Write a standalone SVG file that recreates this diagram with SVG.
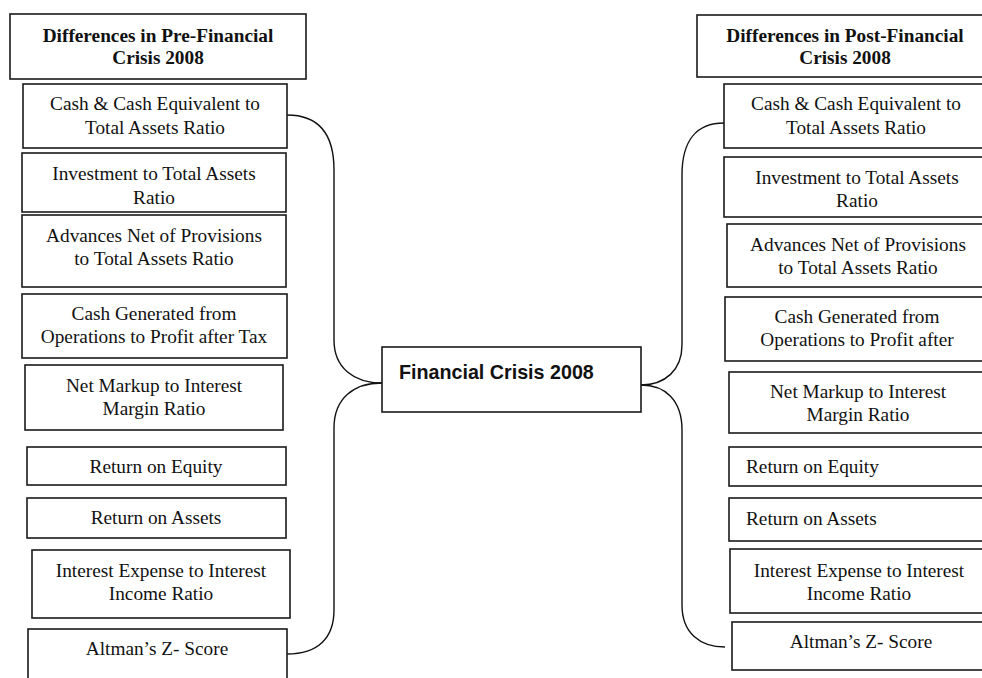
<svg xmlns="http://www.w3.org/2000/svg" width="982" height="678" viewBox="0 0 982 678">
<style>
.box{fill:#fff;stroke:#1a1a1a;stroke-width:1.6}
.t{font-family:"Liberation Serif","Times New Roman",serif;font-size:19.3px;fill:#111;text-anchor:middle}
.tl{text-anchor:start}
.h{font-weight:bold}
.c{font-family:"Liberation Sans",Arial,sans-serif;font-size:19.7px;font-weight:bold;fill:#111}
.conn{fill:none;stroke:#111;stroke-width:1.4}
</style>
<rect x="0" y="0" width="982" height="678" fill="#fff"/>
<g id="connectors">
<path class="conn" d="M287,115 C320,115 334,135 334,170 L334,340 C334,368 354,383 382,383"/>
<path class="conn" d="M382,383 C354,383 334,398 334,428 L334,610 C334,638 318,654 287,654"/>
<path class="conn" d="M724,123 C697,123 682,140 682,175 L682,345 C682,370 665,385 641,385"/>
<path class="conn" d="M641,385 C665,385 682,400 682,430 L682,605 C682,633 700,647 725,647"/>
</g>
<g id="center">
<rect class="box" x="382" y="347" width="259" height="65"/>
<text class="c" x="399" y="379">Financial Crisis 2008</text>
</g>
<g id="pre-header">
<rect class="box" x="10" y="14" width="296" height="65"/>
<text class="t h" x="158" y="42">Differences in Pre-Financial</text>
<text class="t h" x="158" y="64">Crisis 2008</text>
</g>
<g id="pre-1">
<rect class="box" x="23" y="84" width="264" height="64"/>
<text class="t" x="155" y="110">Cash &amp; Cash Equivalent to</text>
<text class="t" x="155" y="134">Total Assets Ratio</text>
</g>
<g id="pre-2">
<rect class="box" x="22" y="153" width="264" height="59"/>
<text class="t" x="154" y="180">Investment to Total Assets</text>
<text class="t" x="154" y="204">Ratio</text>
</g>
<g id="pre-3">
<rect class="box" x="22" y="215" width="264" height="72"/>
<text class="t" x="154" y="242">Advances Net of Provisions</text>
<text class="t" x="154" y="265">to Total Assets Ratio</text>
</g>
<g id="pre-4">
<rect class="box" x="22" y="294" width="265" height="64"/>
<text class="t" x="154" y="320">Cash Generated from</text>
<text class="t" x="154" y="343">Operations to Profit after Tax</text>
</g>
<g id="pre-5">
<rect class="box" x="25" y="365" width="258" height="65"/>
<text class="t" x="154" y="392">Net Markup to Interest</text>
<text class="t" x="154" y="415">Margin Ratio</text>
</g>
<g id="pre-6">
<rect class="box" x="27" y="447" width="259" height="38"/>
<text class="t" x="156" y="473">Return on Equity</text>
</g>
<g id="pre-7">
<rect class="box" x="27" y="498" width="259" height="40"/>
<text class="t" x="156" y="524">Return on Assets</text>
</g>
<g id="pre-8">
<rect class="box" x="32" y="550" width="258" height="68"/>
<text class="t" x="161" y="577">Interest Expense to Interest</text>
<text class="t" x="161" y="600">Income Ratio</text>
</g>
<g id="pre-9">
<rect class="box" x="28" y="629" width="259" height="70"/>
<text class="t" x="157" y="655">Altman’s Z- Score</text>
</g>
<g id="post-header">
<rect class="box" x="697" y="15" width="300" height="62"/>
<text class="t h" x="845" y="42">Differences in Post-Financial</text>
<text class="t h" x="845" y="64">Crisis 2008</text>
</g>
<g id="post-1">
<rect class="box" x="724" y="84" width="270" height="64"/>
<text class="t" x="856" y="110">Cash &amp; Cash Equivalent to</text>
<text class="t" x="856" y="134">Total Assets Ratio</text>
</g>
<g id="post-2">
<rect class="box" x="724" y="157" width="270" height="60"/>
<text class="t" x="857" y="184">Investment to Total Assets</text>
<text class="t" x="857" y="207">Ratio</text>
</g>
<g id="post-3">
<rect class="box" x="727" y="224" width="270" height="63"/>
<text class="t" x="858" y="251">Advances Net of Provisions</text>
<text class="t" x="858" y="274">to Total Assets Ratio</text>
</g>
<g id="post-4">
<rect class="box" x="725" y="297" width="270" height="64"/>
<text class="t" x="857" y="323">Cash Generated from</text>
<text class="t" x="857" y="346">Operations to Profit after</text>
</g>
<g id="post-5">
<rect class="box" x="729" y="372" width="270" height="61"/>
<text class="t" x="858" y="398">Net Markup to Interest</text>
<text class="t" x="858" y="421">Margin Ratio</text>
</g>
<g id="post-6">
<rect class="box" x="729" y="447" width="270" height="39"/>
<text class="t tl" x="746" y="473">Return on Equity</text>
</g>
<g id="post-7">
<rect class="box" x="729" y="498" width="270" height="43"/>
<text class="t tl" x="746" y="525">Return on Assets</text>
</g>
<g id="post-8">
<rect class="box" x="730" y="549" width="270" height="64"/>
<text class="t" x="859" y="577">Interest Expense to Interest</text>
<text class="t" x="859" y="600">Income Ratio</text>
</g>
<g id="post-9">
<rect class="box" x="732" y="622" width="270" height="48"/>
<text class="t" x="861" y="648">Altman’s Z- Score</text>
</g>
</svg>
